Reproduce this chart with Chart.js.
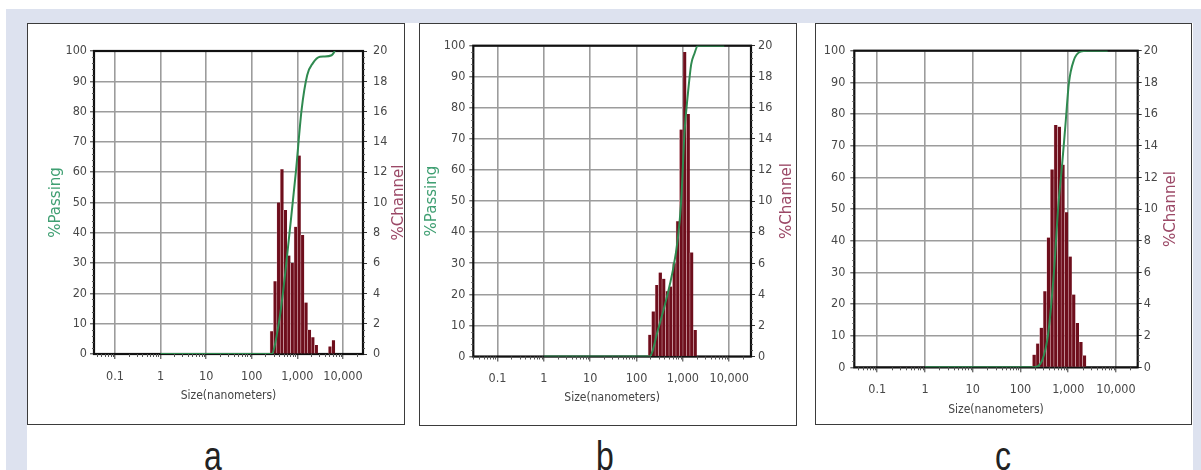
<!DOCTYPE html>
<html><head><meta charset="utf-8">
<script src="https://cdn.jsdelivr.net/npm/chart.js@4.4.1/dist/chart.umd.min.js"></script>
<style>
body{margin:0;width:1201px;height:470px;position:relative;overflow:hidden;background:#fff;}
.bg{position:absolute;left:6px;top:9px;width:1195px;height:461px;background:#dde2ef;}
.inner{position:absolute;left:27px;top:23px;width:1166px;height:447px;background:#fff;}
.panel{position:absolute;box-sizing:border-box;border:1.5px solid #3b3b3b;background:#fff;}
canvas{position:absolute;}
.lab{position:absolute;font-family:'Liberation Sans Narrow','Liberation Sans',Arial,sans-serif;font-size:40px;line-height:40px;color:#222;transform:translateX(-50%) scaleX(0.8);}
</style></head><body>
<div class="bg"></div><div class="inner"></div>
<div class="panel" style="left:27px;top:23px;width:378px;height:402px"></div>
<div class="panel" style="left:419px;top:23px;width:378px;height:403px"></div>
<div class="panel" style="left:815px;top:23px;width:377px;height:402px"></div>
<canvas id="ca" width="378" height="402" style="left:27px;top:23px"></canvas>
<canvas id="cb" width="378" height="403" style="left:419px;top:23px"></canvas>
<canvas id="cc" width="377" height="402" style="left:815px;top:23px"></canvas>
<div class="lab" style="left:213px;top:436px">a</div>
<div class="lab" style="left:605px;top:436px">b</div>
<div class="lab" style="left:1003px;top:436px">c</div>
<script>
// ---- tick labels ----
const xTickValues = [0.1, 1, 10, 100, 1000, 10000];
const xTickLabels = ['0.1', '1', '10', '100', '1,000', '10,000'];

// ---- panel a ----
const sizesA   = [273, 324, 385, 458, 545, 648, 771, 917, 1090, 1297, 1542, 1834, 2181, 2594, 3084, 3668, 4362, 5187, 6169];
const channelA = [1.5, 4.8, 10.0, 12.2, 9.5, 6.5, 6.0, 8.4, 13.1, 7.85, 3.4, 1.6, 1.1, 0.6, 0, 0, 0, 0.5, 0.9];
const passSizesA = [1, 271, 380, 473, 684, 927, 1236, 1641, 2192, 3125, 3830, 5650, 6670];
const passingA   = [0, 0, 9, 19, 41, 60, 80.5, 92, 96, 98.1, 98.2, 98.6, 100];

// ---- panel b ----
const sizesB   = [193, 229, 273, 324, 385, 458, 545, 648, 771, 917, 1090, 1297, 1542, 1834];
const channelB = [1.4, 2.9, 4.6, 5.4, 5.0, 4.2, 4.5, 6.0, 8.7, 14.6, 19.6, 15.6, 6.7, 1.7];
const passSizesB = [1, 190, 289, 609, 780, 919, 1083, 1282, 1510, 1778, 2100, 7800];
const passingB   = [0, 0, 8.5, 27.8, 38, 50, 72, 84.5, 94, 97.5, 100, 100];

// ---- panel c ----
const sizesC   = [193, 229, 273, 324, 385, 458, 545, 648, 771, 917, 1090, 1297, 1542, 1834, 2181];
const channelC = [0.8, 1.5, 2.5, 4.8, 8.2, 12.5, 15.3, 15.2, 12.8, 9.8, 7.0, 4.6, 2.8, 1.6, 0.75];
const passSizesC = [1, 187, 363, 499, 617, 748, 878, 1030, 1310, 1812, 2540, 6690];
const passingC   = [0, 0, 8.6, 29.6, 50.7, 64.4, 77, 89.7, 97, 99.7, 100, 100];

const TICK_FONT = {family: "'DejaVu Sans Condensed','DejaVu Sans',sans-serif", size: 12.5};
const XT_FONT = {family: "'DejaVu Sans Condensed','DejaVu Sans',sans-serif", size: 12};
const TITLE_FONT = {family: "'DejaVu Sans',sans-serif", size: 15};
const TICK_COLOR = '#484848';
const GRID_COLOR = '#9c9c9c';
const GREEN = '#2f8a50';
const BAR = '#6e0e1c';

const framePlugin = {
  id: 'frame',
  beforeDatasetsDraw(chart) {
    const {ctx, chartArea: a} = chart;
    ctx.save();
    ctx.strokeStyle = '#111';
    ctx.lineWidth = 2.2;
    ctx.strokeRect(a.left, a.top, a.right - a.left, a.bottom - a.top);
    ctx.restore();
  }
};

const minorPlugin = {
  id: 'minor',
  beforeDatasetsDraw(chart) {
    const {ctx, chartArea: a, scales} = chart;
    ctx.save();
    ctx.strokeStyle = '#555';
    ctx.lineWidth = 1;
    ctx.beginPath();
    for (let v = 2; v < 100; v += 2) {
      if (v % 10 === 0) continue;
      const p = Math.round(scales.yL.getPixelForValue(v)) + 0.5;
      ctx.moveTo(a.left - 2, p); ctx.lineTo(a.left, p);
      ctx.moveTo(a.right, p); ctx.lineTo(a.right + 2, p);
    }
    for (let d = 0.01; d <= 10000; d *= 10) {
      for (let m = 2; m <= 9; m++) {
        const v = m * d;
        if (v < scales.x.min || v > scales.x.max) continue;
        const p = Math.round(scales.x.getPixelForValue(v)) + 0.5;
        ctx.moveTo(p, a.bottom); ctx.lineTo(p, a.bottom + 3);
      }
    }
    ctx.stroke();
    ctx.restore();
  }
};

const channelTitlePlugin = {
  id: 'chanTitle',
  afterDraw(chart, args, opts) {
    const {ctx, chartArea: a} = chart;
    ctx.save();
    ctx.translate(a.right + opts.offset, (a.top + a.bottom) / 2);
    ctx.rotate(-Math.PI / 2);
    ctx.font = "15px 'DejaVu Sans', sans-serif";
    ctx.fillStyle = '#9b4866';
    ctx.textAlign = 'center';
    ctx.textBaseline = 'middle';
    ctx.fillText('%Channel', 0, 0);
    ctx.restore();
  }
};

function makeChart(id, sizes, channel, passSizes, passing, L) {
  const canvas = document.getElementById(id);
  const W = canvas.width, H = canvas.height;
  const wL = L.wL, wR = 40, hX = 50;
  new Chart(canvas, {
    type: 'bar',
    data: {
      datasets: [
        {
          type: 'line',
          data: passSizes.map((s, i) => ({x: s, y: passing[i]})),
          xAxisID: 'x', yAxisID: 'yL',
          borderColor: GREEN, borderWidth: 2, pointRadius: 0,
          cubicInterpolationMode: 'monotone', fill: false
        },
        {
          type: 'bar',
          data: sizes.map((s, i) => ({x: s, y: channel[i]})),
          xAxisID: 'x', yAxisID: 'yR',
          backgroundColor: BAR, borderColor: 'rgba(235,200,205,0.9)', borderWidth: {left: 0.6, right: 0, top: 0, bottom: 0},
          categoryPercentage: 1, barPercentage: 1, grouped: false
        }
      ]
    },
    options: {
      responsive: false, animation: false, devicePixelRatio: 1,
      layout: {padding: {left: L.L - wL, top: L.T, right: W - L.R - wR, bottom: H - L.B - hX}},
      plugins: {legend: {display: false}, tooltip: {enabled: false}, chanTitle: {offset: L.chanOff}},
      scales: {
        x: {
          type: 'logarithmic', position: 'bottom', min: L.xMin, max: L.xMax, offset: false,
          afterBuildTicks: s => { s.ticks = xTickValues.map(v => ({value: v})); },
          ticks: {callback: (v, i) => xTickLabels[i], font: TICK_FONT, color: TICK_COLOR, padding: 10, autoSkip: false, maxRotation: 0},
          grid: {offset: false, color: GRID_COLOR, lineWidth: 1.6, tickLength: 5, tickColor: '#333', tickWidth: 1},
          border: {display: false},
          title: {display: true, text: 'Size(nanometers)', font: XT_FONT, color: '#444', padding: {top: 0, bottom: L.xtPad}},
          afterFit: s => { s.height = hX; }
        },
        yL: {
          type: 'linear', position: 'left', min: 0, max: 100,
          ticks: {stepSize: 10, font: TICK_FONT, color: TICK_COLOR, padding: L.lPad},
          grid: {color: GRID_COLOR, lineWidth: 1.6, tickLength: 4, tickColor: '#333', tickWidth: 1},
          border: {display: false},
          title: {display: L.showPassing, text: '%Passing', font: TITLE_FONT, color: '#3f9f72', padding: {top: L.tpL, bottom: 0}},
          afterFit: s => { s.width = wL; }
        },
        yR: {
          type: 'linear', position: 'right', min: 0, max: 20,
          ticks: {stepSize: 2, font: TICK_FONT, color: TICK_COLOR, padding: L.rPad},
          grid: {drawOnChartArea: false, tickLength: 4, tickColor: '#333', tickWidth: 1},
          border: {display: false},
          afterFit: s => { s.width = wR; }
        }
      }
    },
    plugins: [framePlugin, minorPlugin, channelTitlePlugin]
  });
}

makeChart('ca', sizesA, channelA, passSizesA, passingA,
  {L: 67, T: 28, R: 336, B: 331, wL: 52, tpL: 5, showPassing: true, lPad: 3, rPad: 6, chanOff: 36, xMin: 0.0347, xMax: 27500, xtPad: 1});
makeChart('cb', sizesB, channelB, passSizesB, passingB,
  {L: 54.3, T: 22.7, R: 332, B: 333.5, wL: 52, tpL: 1.4, showPassing: true, lPad: 4, rPad: 3, chanOff: 35.7, xMin: 0.030, xMax: 29500, xtPad: 1});
makeChart('cc', sizesC, channelC, passSizesC, passingC,
  {L: 39.3, T: 27.7, R: 322.7, B: 344.3, wL: 34, tpL: 0, showPassing: false, lPad: 5, rPad: 2, chanOff: 33.5, xMin: 0.033, xMax: 28500, xtPad: 0});
</script>
</body></html>
